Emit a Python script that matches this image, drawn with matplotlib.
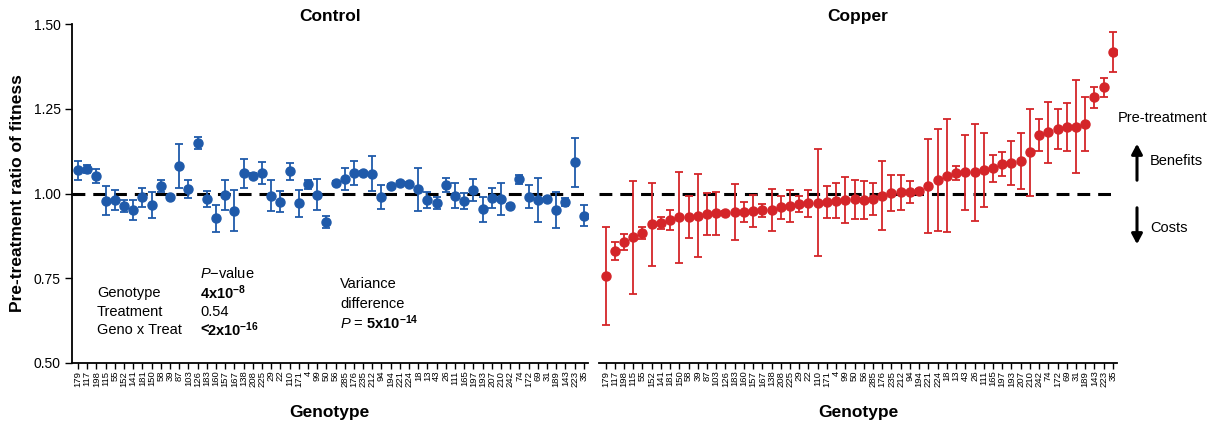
import matplotlib
matplotlib.use("Agg")
import matplotlib.pyplot as plt
import numpy as np

plt.rcParams['font.family'] = ['Liberation Sans', 'DejaVu Sans']
plt.rcParams['mathtext.fontset'] = 'custom'
plt.rcParams['mathtext.rm'] = 'Liberation Sans'
plt.rcParams['mathtext.it'] = 'Liberation Sans:italic'
plt.rcParams['mathtext.bf'] = 'Liberation Sans:bold'

genotypes = ['179', '117', '198', '115', '55', '152', '141', '181', '150', '58',
             '39', '87', '103', '126', '183', '160', '157', '167', '138', '208',
             '225', '29', '22', '110', '171', '4', '99', '50', '56', '285',
             '176', '235', '212', '94', '194', '221', '224', '18', '13', '43',
             '26', '111', '165', '197', '193', '207', '210', '242', '74', '172',
             '69', '31', '189', '143', '223', '35']

control_mean = [1.069, 1.071, 1.052, 0.979, 0.981, 0.963, 0.951, 0.989, 0.966, 1.022,
                0.991, 1.081, 1.013, 1.148, 0.984, 0.927, 0.996, 0.949, 1.060, 1.053,
                1.060, 0.993, 0.976, 1.066, 0.971, 1.027, 0.996, 0.915, 1.032, 1.042,
                1.061, 1.060, 1.058, 0.989, 1.022, 1.030, 1.028, 1.012, 0.981, 0.971,
                1.025, 0.993, 0.978, 1.010, 0.953, 0.986, 0.984, 0.963, 1.042, 0.991,
                0.981, 0.984, 0.951, 0.976, 1.092, 0.935]
control_err = [0.028, 0.012, 0.021, 0.043, 0.029, 0.019, 0.029, 0.028, 0.039, 0.019,
               0.006, 0.066, 0.027, 0.018, 0.023, 0.040, 0.045, 0.060, 0.043, 0.006,
               0.033, 0.046, 0.030, 0.025, 0.039, 0.013, 0.046, 0.018, 0.006, 0.032,
               0.036, 0.006, 0.052, 0.035, 0.006, 0.006, 0.006, 0.064, 0.023, 0.018,
               0.020, 0.037, 0.024, 0.033, 0.038, 0.030, 0.046, 0.006, 0.013, 0.033,
               0.064, 0.006, 0.054, 0.012, 0.072, 0.031]

copper_mean = [0.757, 0.831, 0.858, 0.871, 0.884, 0.909, 0.912, 0.922, 0.930, 0.930,
               0.935, 0.940, 0.942, 0.943, 0.946, 0.946, 0.949, 0.951, 0.951, 0.959,
               0.964, 0.969, 0.971, 0.973, 0.976, 0.979, 0.981, 0.983, 0.981, 0.983,
               0.994, 1.001, 1.003, 1.004, 1.007, 1.022, 1.040, 1.052, 1.060, 1.062,
               1.062, 1.069, 1.074, 1.087, 1.091, 1.096, 1.122, 1.173, 1.180, 1.189,
               1.197, 1.197, 1.205, 1.284, 1.313, 1.418]
copper_err = [0.144, 0.027, 0.024, 0.167, 0.017, 0.122, 0.018, 0.029, 0.134, 0.062,
              0.122, 0.062, 0.063, 0.006, 0.083, 0.030, 0.048, 0.019, 0.061, 0.035,
              0.047, 0.024, 0.039, 0.157, 0.047, 0.051, 0.069, 0.058, 0.057, 0.047,
              0.103, 0.053, 0.052, 0.033, 0.006, 0.138, 0.150, 0.167, 0.021, 0.112,
              0.142, 0.108, 0.041, 0.034, 0.065, 0.082, 0.128, 0.047, 0.089, 0.059,
              0.071, 0.137, 0.081, 0.031, 0.027, 0.059]

BLUE = '#1f5aaa'
RED = '#d42529'

W, H = 1230, 430
fig = plt.figure(figsize=(W / 100, H / 100), dpi=100)

def fx(x):
    return x / W

def fy(y):
    return 1 - y / H

ax_bottom = fy(363)
ax_height = (363 - 24) / H
ax1 = fig.add_axes([fx(71.7), ax_bottom, (588 - 71.7) / W, ax_height])
ax2 = fig.add_axes([fx(599.3), ax_bottom, (1117 - 599.3) / W, ax_height])

x = np.arange(len(genotypes))

for ax, m, e, c in [(ax1, control_mean, control_err, BLUE),
                    (ax2, copper_mean, copper_err, RED)]:
    ax.axhline(1.0, color='black', lw=2.2, ls=(0, (4.2, 2.6)), zorder=1)
    ax.errorbar(x, m, yerr=e, fmt='o', color=c, ecolor=c, ms=6.5,
                elinewidth=1.3, capsize=2.8, capthick=1.3, zorder=3)
    ax.set_xlim(-0.68, len(genotypes) - 0.55)
    ax.set_ylim(0.5, 1.5)
    ax.set_xticks(x)
    ax.set_xticklabels(genotypes, rotation=90, fontsize=6.8)
    ax.tick_params(axis='x', length=4, width=1.0, pad=1.5, direction='out')
    for s in ['top', 'right']:
        ax.spines[s].set_visible(False)
    ax.spines['bottom'].set_linewidth(1.3)
    ax.set_xlabel('Genotype', fontsize=12.5, fontweight='bold', labelpad=13)

ax1.spines['left'].set_linewidth(1.3)
ax1.set_yticks([0.5, 0.75, 1.0, 1.25, 1.5])
ax1.set_yticklabels(['0.50', '0.75', '1.00', '1.25', '1.50'], fontsize=10)
ax1.tick_params(axis='y', length=5, width=1.0, pad=3)
ax1.set_ylabel('Pre-treatment ratio of fitness', fontsize=12.5, fontweight='bold', labelpad=6)

ax2.spines['left'].set_visible(False)
ax2.set_yticks([])

ax1.set_title('Control', fontsize=12.5, fontweight='bold', pad=1)
ax2.set_title('Copper', fontsize=12.5, fontweight='bold', pad=1)

fs = 10.5
fig.text(fx(200), fy(273), r'$\it{P}$' + '\u2212value', fontsize=fs, va='center', ha='left')
rows = [('Genotype', r'$\mathbf{4x10^{-8}}$', 293, 200),
        ('Treatment', '0.54', 312, 200),
        ('Geno x Treat', r'$\mathbf{2x10^{-16}}$', 330, 207)]
for lab, val, yy, vx in rows:
    fig.text(fx(97), fy(yy), lab, fontsize=fs, va='center', ha='left')
    fig.text(fx(vx), fy(yy), val, fontsize=fs, va='center', ha='left')
fig.text(fx(200), fy(330), '<', fontsize=fs, fontweight='bold', va='center', ha='left')

fig.text(fx(340), fy(284), 'Variance', fontsize=fs, va='center', ha='left')
fig.text(fx(340), fy(304), 'difference', fontsize=fs, va='center', ha='left')
fig.text(fx(340), fy(323), r'$\it{P}$ = $\mathbf{5x10^{-14}}$', fontsize=fs, va='center', ha='left')

fig.text(fx(1118), fy(118), 'Pre-treatment', fontsize=fs, va='center', ha='left')
fig.text(fx(1150), fy(161), 'Benefits', fontsize=fs, va='center', ha='left')
fig.text(fx(1150), fy(228), 'Costs', fontsize=fs, va='center', ha='left')
fig.add_artist(matplotlib.patches.FancyArrowPatch(
    (fx(1137), fy(183)), (fx(1137), fy(141)), transform=fig.transFigure,
    arrowstyle='-|>,head_width=3.2,head_length=6', lw=2.2, color='black',
    mutation_scale=1))
fig.add_artist(matplotlib.patches.FancyArrowPatch(
    (fx(1137), fy(205)), (fx(1137), fy(247)), transform=fig.transFigure,
    arrowstyle='-|>,head_width=3.2,head_length=6', lw=2.2, color='black',
    mutation_scale=1))

fig.savefig('out.png', dpi=100)
